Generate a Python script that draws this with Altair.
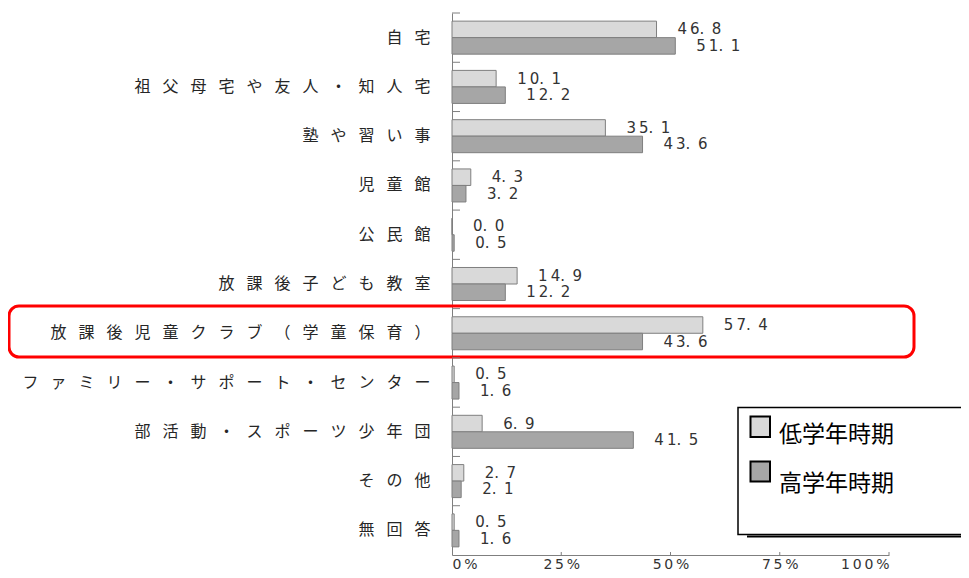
import altair as alt
import pandas as pd

categories = ["自宅", "祖父母宅や友人・知人宅", "塾や習い事", "児童館", "公民館",
              "放課後子ども教室", "放課後児童クラブ（学童保育）", "ファミリー・サポート・センター",
              "部活動・スポーツ少年団", "その他", "無回答"]
series = ["低学年時期", "高学年時期"]
low = [46.8, 10.1, 35.1, 4.3, 0.0, 14.9, 57.4, 0.5, 6.9, 2.7, 0.5]
high = [51.1, 12.2, 43.6, 3.2, 0.5, 12.2, 43.6, 1.6, 41.5, 2.1, 1.6]
x_ticks = [0, 25, 50, 75, 100]
x_tick_labels = ["0%", "25%", "50%", "75%", "100%"]

SEP = "\u2002\u2005"


def spaced(s):
    return SEP.join(list(s))


def fmt(v):
    a, b = f"{v:.1f}".split(".")
    return "\u2009".join(a) + ".\u2002" + b


cat_disp = [spaced(c) for c in categories]

rows = []
for c, lv, hv in zip(cat_disp, low, high):
    rows.append({"cat": c, "series": series[0], "value": lv, "label": fmt(lv)})
    rows.append({"cat": c, "series": series[1], "value": hv, "label": fmt(hv)})
df = pd.DataFrame(rows)

FONT = "Noto Sans CJK JP"
NUMFONT = "DejaVu Sans"
W, H = 437, 542
STEP = H / 11.0

yscale = alt.Scale(paddingInner=0.33, paddingOuter=0.165)
y_enc = alt.Y("cat:N", sort=cat_disp, scale=yscale, title=None,
              axis=alt.Axis(ticks=False, domainColor="#7f7f7f", labelFont=FONT,
                            labelFontSize=16, labelColor="#262626", labelPadding=22,
                            labelLimit=0))
x_enc = alt.X("value:Q", scale=alt.Scale(domain=[0, 100]), title=None,
              axis=alt.Axis(values=x_ticks, ticks=False, grid=False, domainColor="#7f7f7f",
                            labelFont=NUMFONT, labelFontSize=14, labelColor="#333333",
                            labelPadding=2,
                            labelExpr="%s[indexof(%s, datum.value)]" % (
                                str(["\u2009".join(list(t)) for t in x_tick_labels]), str(x_ticks))))
yoff = alt.YOffset("series:N", sort=series)

bars = alt.Chart(df).mark_bar(stroke="#7f7f7f", strokeWidth=1).encode(
    x=x_enc, y=y_enc, yOffset=yoff,
    color=alt.Color("series:N", sort=series, legend=None,
                    scale=alt.Scale(domain=series, range=["#d9d9d9", "#a6a6a6"])),
)

texts = alt.Chart(df).mark_text(align="left", baseline="middle", dx=21, font=NUMFONT,
                                fontSize=15, color="#333333").encode(
    x="value:Q", y=alt.Y("cat:N", sort=cat_disp), yOffset=yoff, text="label:N")

tick_df = pd.DataFrame({"cat": cat_disp})
yticks = alt.Chart(tick_df).mark_rule(color="#7f7f7f", strokeWidth=1,
                                      yOffset=-STEP * 0.165).encode(
    y=alt.Y("cat:N", sort=cat_disp, bandPosition=0),
    x=alt.value(0), x2=alt.value(8))

xt_df = pd.DataFrame({"value": x_ticks[1:]})
xticks = alt.Chart(xt_df).mark_rule(color="#7f7f7f", strokeWidth=1).encode(
    x="value:Q", y=alt.value(H - 3), y2=alt.value(H))

one = alt.Data(values=[{"k": 1}])

highlight = alt.Chart(one).mark_rect(fillOpacity=0, stroke="#ff0000", strokeWidth=3,
                                     cornerRadius=10).encode(
    x=alt.value(-443), x2=alt.value(462), y=alt.value(293), y2=alt.value(344))

legend_shadow = alt.Chart(one).mark_rule(color="#000000", strokeWidth=2).encode(
    x=alt.value(295), x2=alt.value(540), y=alt.value(523.5))
legend_box = alt.Chart(one).mark_rect(fill="white", stroke="#000000", strokeWidth=1.5).encode(
    x=alt.value(286), x2=alt.value(540), y=alt.value(394.5), y2=alt.value(521.5))

leg_df = pd.DataFrame({"series": series, "y": [403.5, 448.5], "y2": [424, 468.5],
                       "ty": [421.5, 470.5]})
leg_sw = alt.Chart(leg_df).mark_rect(stroke="#000000", strokeWidth=2).encode(
    x=alt.value(298.5), x2=alt.value(318),
    y=alt.Y("y:Q", scale=None), y2="y2:Q",
    color=alt.Color("series:N", sort=series, legend=None,
                    scale=alt.Scale(domain=series, range=["#d9d9d9", "#a6a6a6"])))
leg_tx = alt.Chart(leg_df).mark_text(align="left", baseline="middle", font=FONT,
                                     fontSize=23, color="#000000").encode(
    x=alt.value(327), y=alt.Y("ty:Q", scale=None), text="series:N")

chart = alt.layer(highlight, bars, texts, yticks, xticks, legend_shadow, legend_box,
                  leg_sw, leg_tx).properties(
    width=W, height=H,
    padding={"left": 444, "top": 5, "right": 72, "bottom": 15},
    autosize=alt.AutoSizeParams(type="none"),
).configure_view(stroke=None).resolve_scale(y="shared")

chart.save("out.html", embed_options={"renderer": "svg", "actions": False})
